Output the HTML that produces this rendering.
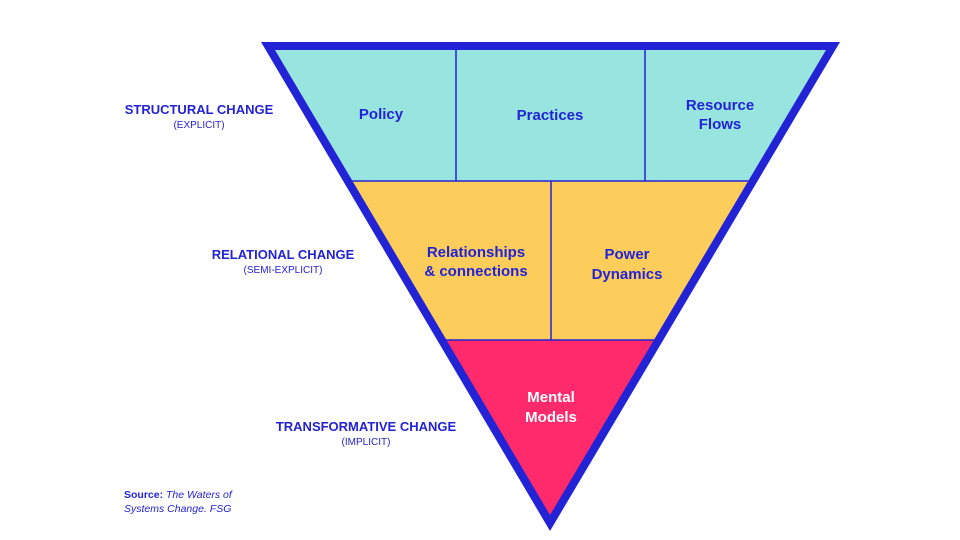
<!DOCTYPE html>
<html><head><meta charset="utf-8"><style>
body{margin:0;background:#fff;}
svg{display:block;}
text{font-family:"Liberation Sans",sans-serif;}
</style></head><body>
<svg width="960" height="540" viewBox="0 0 960 540">
<defs><clipPath id="c"><polygon points="275,50 826,50 550,515"/></clipPath></defs>
<polygon points="261,42 840,42 550,531" fill="#2323d6"/>
<g clip-path="url(#c)">
<rect x="200" y="40" width="700" height="141" fill="#98e4df"/>
<rect x="200" y="181" width="700" height="159" fill="#fccd5a"/>
<rect x="200" y="340" width="700" height="200" fill="#ff2a6b"/>
<line x1="200" y1="181" x2="900" y2="181" stroke="#2323d6" stroke-width="1.5"/>
<line x1="200" y1="340" x2="900" y2="340" stroke="#2323d6" stroke-width="1.5"/>
<line x1="456" y1="45" x2="456" y2="181" stroke="#2323d6" stroke-width="1.5"/>
<line x1="645" y1="45" x2="645" y2="181" stroke="#2323d6" stroke-width="1.5"/>
<line x1="551" y1="181" x2="551" y2="340" stroke="#2323d6" stroke-width="1.5"/>
</g>
<g fill="#2323d6" font-size="15" font-weight="bold" text-anchor="middle">
<text x="381" y="119">Policy</text>
<text x="550" y="120">Practices</text>
<text x="720" y="110">Resource</text>
<text x="720" y="129">Flows</text>
<text x="476" y="257">Relationships</text>
<text x="476" y="276">&amp; connections</text>
<text x="627" y="259">Power</text>
<text x="627" y="279">Dynamics</text>
</g>
<g fill="#fff" font-size="15" font-weight="bold" text-anchor="middle">
<text x="551" y="402">Mental</text>
<text x="551" y="422">Models</text>
</g>
<g fill="#2323d6" text-anchor="middle">
<text x="199" y="114" font-size="13" font-weight="bold">STRUCTURAL CHANGE</text>
<text x="199" y="128" font-size="10">(EXPLICIT)</text>
<text x="283" y="259" font-size="13" font-weight="bold">RELATIONAL CHANGE</text>
<text x="283" y="273" font-size="10">(SEMI-EXPLICIT)</text>
<text x="366" y="431" font-size="13" font-weight="bold">TRANSFORMATIVE CHANGE</text>
<text x="366" y="445" font-size="10">(IMPLICIT)</text>
</g>
<g fill="#2323d6" font-size="10.5">
<text x="124" y="498"><tspan font-weight="bold">Source:</tspan> <tspan font-style="italic">The Waters of</tspan></text>
<text x="124" y="512" font-style="italic">Systems Change. FSG</text>
</g>
</svg>
</body></html>
